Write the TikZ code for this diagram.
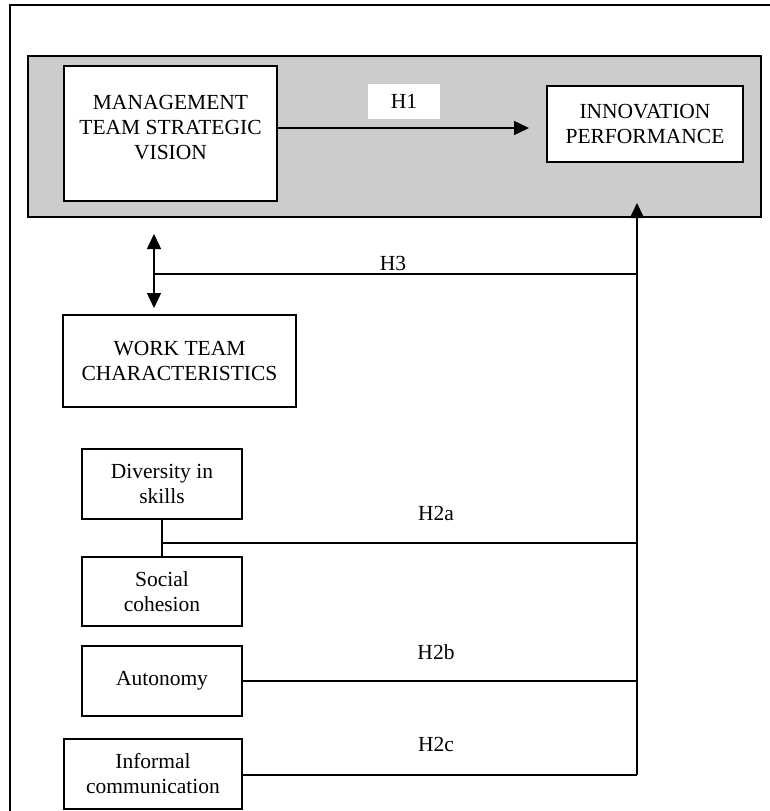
\documentclass[tikz,border=0pt]{standalone}
\usepackage{fontspec}
\setmainfont{Liberation Serif}
\usetikzlibrary{arrows.meta}
\definecolor{panelgray}{RGB}{204,204,204}
\begin{document}
\begin{tikzpicture}[x=1pt,y=-1pt,
  every node/.style={font=\fontsize{21.5}{25}\selectfont, text=black},
  box/.style={draw=black, fill=white, line width=1.5pt, inner sep=0pt, align=center},
  conn/.style={line width=1.5pt, draw=black},
  arr/.style={conn, -{Triangle[length=15pt,width=14pt]}},
  darr/.style={conn, {Triangle[length=15pt,width=14pt]}-{Triangle[length=15pt,width=14pt]}},
  hlabel/.style={inner sep=0pt}
]
\useasboundingbox (0,0) rectangle (770,811);
% outer frame (cropped at right and bottom)
\draw[line width=1.5pt] (770,5) -- (10,5) -- (10,811);
% gray panel
\node[draw=black, fill=panelgray, line width=1.5pt, minimum width=733pt, minimum height=161pt, inner sep=0pt] (panel) at (394.5,136.5) {};
% boxes
\node[box, minimum width=213pt, minimum height=135pt] (mgmt) at (170.5,133.5) {};
\node[inner sep=0pt, align=center] (mgmttext) at (170.5,128) {MANAGEMENT\\TEAM STRATEGIC\\VISION};
\node[box, minimum width=196pt, minimum height=76pt] (innov) at (645,124) {INNOVATION\\PERFORMANCE};
\node[fill=white, minimum width=72pt, minimum height=35pt, inner sep=0pt] (h1) at (404,101.5) {H1};
\node[box, minimum width=233pt, minimum height=92pt] (wtc) at (179.5,361) {WORK TEAM\\CHARACTERISTICS};
\node[box, minimum width=160pt, minimum height=70pt] (div) at (162,484) {Diversity in\\skills};
\node[box, minimum width=160pt, minimum height=69pt] (soc) at (162,591.5) {Social\\cohesion};
\node[box, minimum width=160pt, minimum height=70pt] (aut) at (162,681) {Autonomy};
\node[box, minimum width=178pt, minimum height=70pt] (inf) at (153,774) {Informal\\communication};
% coordinates
\coordinate (h1end) at (529,128);
\coordinate (iptip) at (637,203);
\coordinate (vbot) at (637,775);
\coordinate (dtop) at (154,234);
\coordinate (dbot) at (154,308);
\coordinate (h3l) at (154,274);
\coordinate (h3r) at (637,274);
\coordinate (h2al) at (162,543);
\coordinate (h2ar) at (637,543);
% connectors
\draw[arr] (mgmt.east |- h1end) -- (h1end);
\draw[arr] (vbot) -- (iptip);
\draw[darr] (dtop) -- (dbot);
\draw[conn] (h3l) -- (h3r);
\draw[conn] (div.south) -- (soc.north);
\draw[conn] (h2al) -- (h2ar);
\draw[conn] (aut.east) -- (aut.east -| vbot);
\draw[conn] (inf.east |- vbot) -- (vbot);
% labels
\node[hlabel] (h3) at (393,263) {H3};
\node[hlabel] (h2a) at (436,513) {H2a};
\node[hlabel] (h2b) at (436,652) {H2b};
\node[hlabel] (h2c) at (436,744) {H2c};
\end{tikzpicture}
\end{document}
